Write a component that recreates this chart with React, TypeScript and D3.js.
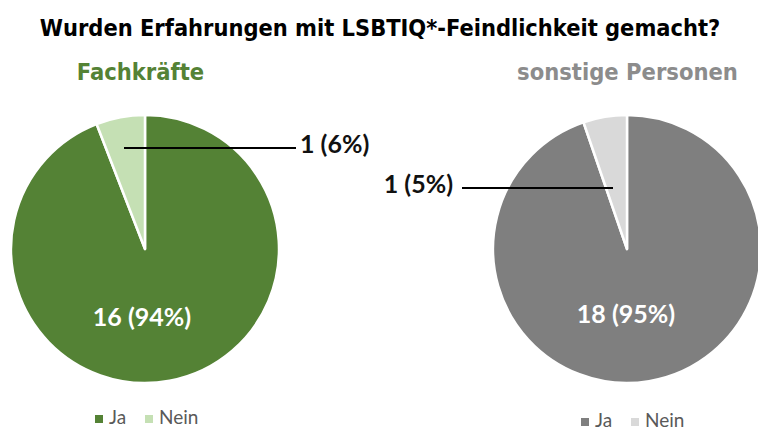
import React from "react";
import * as d3 from "d3";

const categories = ["Ja", "Nein"];
const fachkraefteValues = [16, 1];
const sonstigeValues = [18, 1];
const fachkraefteLabels = ["16 (94%)", "1 (6%)"];
const sonstigeLabels = ["18 (95%)", "1 (5%)"];
const groupTitles = ["Fachkräfte", "sonstige Personen"];
const title = "Wurden Erfahrungen mit LSBTIQ*-Feindlichkeit gemacht?";

const greenColors = ["#548235", "#c5e0b4"];
const grayColors = ["#7f7f7f", "#d9d9d9"];

const W = 758;
const H = 430;
const R = 134;
const condensed = "'Liberation Sans Narrow', 'Arial Narrow', 'DejaVu Sans Condensed', sans-serif";
const bodyFont = "Lato, 'Open Sans', sans-serif";

type PieProps = {
  cx: number;
  cy: number;
  values: number[];
  colors: string[];
  labels: string[];
  innerLabel: [number, number];
  calloutLine: [number, number, number];
  calloutText: [number, number, "start" | "end"];
};

function Pie({ cx, cy, values, colors, labels, innerLabel, calloutLine, calloutText }: PieProps) {
  const pie = d3.pie<number>().sort(null).value((d) => d)(values);
  const arc = d3.arc<d3.PieArcDatum<number>>().innerRadius(0).outerRadius(R);
  return (
    <g>
      <g transform={`translate(${cx},${cy})`}>
        {pie.map((p, i) => (
          <path key={i} d={arc(p) || ""} fill={colors[i]} stroke="#fff" strokeWidth={2.5} strokeLinejoin="round" />
        ))}
      </g>
      <text x={innerLabel[0]} y={innerLabel[1]} fill="#fff" fontFamily={bodyFont} fontWeight={700} fontSize={25} textAnchor="middle" dominantBaseline="middle">
        {labels[0]}
      </text>
      <line x1={calloutLine[0]} x2={calloutLine[1]} y1={calloutLine[2]} y2={calloutLine[2]} stroke="#000" strokeWidth={2} />
      <text x={calloutText[0]} y={calloutText[1]} fill="#111" fontFamily={bodyFont} fontWeight={700} fontSize={25} textAnchor={calloutText[2]} dominantBaseline="middle">
        {labels[1]}
      </text>
    </g>
  );
}

function Legend({ x, y, colors }: { x: number; y: number; colors: string[] }) {
  const offsets = [0, 50];
  return (
    <g>
      {categories.map((c, i) => (
        <g key={c} transform={`translate(${x + offsets[i]},${y})`}>
          <rect x={0} y={-4} width={8} height={8} fill={colors[i]} />
          <text x={14} y={0} fill="#595959" fontFamily={bodyFont} fontSize={19} dominantBaseline="middle">
            {c}
          </text>
        </g>
      ))}
    </g>
  );
}

export default function App() {
  return (
    <svg width={W} height={H} style={{ position: "absolute", left: 0, top: 0, background: "#fff" }}>
      <rect width={W} height={H} fill="#fff" />
      <text x={380} y={29} textAnchor="middle" dominantBaseline="middle" fontFamily={condensed} fontWeight={700} fontSize={23.4} fill="#000">
        {title}
      </text>
      <text x={140.5} y={73} textAnchor="middle" dominantBaseline="middle" fontFamily={condensed} fontWeight={700} fontSize={23.5} fill="#548235">
        {groupTitles[0]}
      </text>
      <text x={627.5} y={73} textAnchor="middle" dominantBaseline="middle" fontFamily={condensed} fontWeight={700} fontSize={23.5} fill="#8c8c8c">
        {groupTitles[1]}
      </text>
      <Pie
        cx={145}
        cy={249}
        values={fachkraefteValues}
        colors={greenColors}
        labels={fachkraefteLabels}
        innerLabel={[142, 320]}
        calloutLine={[124, 296, 148]}
        calloutText={[300, 147, "start"]}
      />
      <Pie
        cx={627}
        cy={249}
        values={sonstigeValues}
        colors={grayColors}
        labels={sonstigeLabels}
        innerLabel={[626, 317]}
        calloutLine={[462, 613, 188]}
        calloutText={[453, 187, "end"]}
      />
      <Legend x={95} y={419} colors={greenColors} />
      <Legend x={581} y={422} colors={grayColors} />
    </svg>
  );
}
